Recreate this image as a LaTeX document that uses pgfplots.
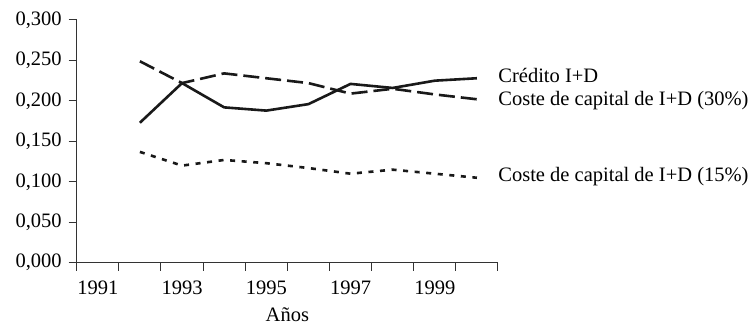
\documentclass[border=0pt]{standalone}
\usepackage{fontspec}
\setmainfont{Liberation Serif}
\usepackage{pgfplots}
\pgfplotsset{compat=1.18}
\begin{document}
\begin{tikzpicture}[font=\fontsize{10.25}{12.3}\selectfont]
\useasboundingbox (-38.35pt,-31.65pt) rectangle (339.65pt,131.35pt);
\begin{axis}[
  at={(0,0)}, anchor=south west,
  scale only axis, width=210.65pt, height=121.35pt,
  xmin=0.5, xmax=10.5, ymin=0, ymax=0.3,
  axis x line=bottom, axis y line=left,
  axis line style={-, line width=0.5pt, black!80},
  every tick/.style={black!80, line width=0.5pt},
  xtick={0.5,1.5,...,10.5}, xticklabel=\empty,
  extra x ticks={1,3,5,7,9},
  extra x tick labels={1991,1993,1995,1997,1999},
  extra x tick style={tick style={draw=none}},
  ytick={0,0.05,0.1,0.15,0.2,0.25,0.3},
  tick align=outside, major tick length=4pt,
  tick label style={font=\fontsize{10.25}{12.3}\selectfont},
  label style={font=\fontsize{10.25}{12.3}\selectfont},
  /pgf/number format/assume math mode=true,
  yticklabel style={/pgf/number format/.cd, fixed, fixed zerofill, precision=3, use comma},
  xticklabel style={yshift=-1.5pt},
  xlabel={Años}, xlabel style={yshift=4.5pt},
  clip=false,
]
\addplot[line width=1.3pt, black!90] coordinates {
(2,0.173) (3,0.222) (4,0.192) (5,0.188) (6,0.196) (7,0.221) (8,0.216) (9,0.225) (10,0.228)};
\addplot[line width=1.3pt, black!90, dash pattern=on 8pt off 3pt] coordinates {
(2,0.249) (3,0.222) (4,0.234) (5,0.228) (6,0.222) (7,0.209) (8,0.215) (9,0.208) (10,0.202)};
\addplot[line width=1.3pt, black!90, dash pattern=on 2.5pt off 3.3pt] coordinates {
(2,0.137) (3,0.120) (4,0.127) (5,0.123) (6,0.117) (7,0.110) (8,0.115) (9,0.110) (10,0.105)};
\node[anchor=west, inner sep=0pt] at (axis cs:10.5,0.232) {Crédito I+D};
\node[anchor=west, inner sep=0pt] at (axis cs:10.5,0.1999) {Coste de capital de I+D (30\%)};
\node[anchor=west, inner sep=0pt] at (axis cs:10.5,0.1059) {Coste de capital de I+D (15\%)};
\end{axis}
\end{tikzpicture}
\end{document}
